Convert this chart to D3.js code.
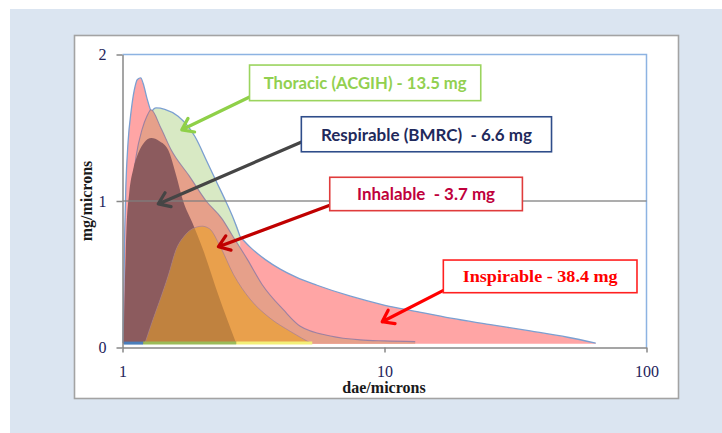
<!DOCTYPE html>
<html><head><meta charset="utf-8">
<script src="https://cdn.jsdelivr.net/npm/d3@7"></script>
<style>body{margin:0;background:#fff}svg{display:block}</style>
</head><body><svg id="c" width="722" height="433"></svg>
<script>
// ---------- data ----------
const xTicks = [1, 10, 100];
const yTicks = [0, 1, 2];
const gridValues = [1];
const baseline = 0.025;

// Inspirable (pink)
const inspirableX = [1.005,1.012,1.02,1.03,1.05,1.08,1.11,1.14,1.174,1.2,1.24,1.29,1.45,1.7,2.0,2.4,2.81,3.07,3.51,4.0,4.6,5.53,7.42,9.95,13.3,17.9,25,36,50,64];
const inspirableY = [0.03,0.4,0.8,1.1,1.4,1.62,1.76,1.83,1.84,1.8,1.7,1.6,1.45,1.3,1.1,0.9,0.757,0.685,0.6,0.535,0.48,0.425,0.35,0.29,0.245,0.2,0.158,0.113,0.07,0.03];
// Thoracic (green)
const thoracicX = [1.02,1.1,1.2,1.285,1.345,1.45,1.63,1.89,2.1,2.3,2.49,2.65,2.81,2.83];
const thoracicY = [0.025,0.7,1.3,1.6,1.635,1.625,1.578,1.44,1.27,1.12,0.99,0.88,0.757,0.025];
// unlabelled series (salmon)
const seriesCX = [1.01,1.03,1.06,1.09,1.126,1.187,1.24,1.285,1.4,1.533,1.8,2.086,2.395,2.616,3.0,3.41,4.12,4.77,6.22,8.09,10,13.1];
const seriesCY = [0.025,0.45,0.85,1.1,1.302,1.487,1.58,1.623,1.5,1.35,1.17,1.0,0.88,0.77,0.6,0.43,0.256,0.145,0.079,0.052,0.045,0.04];
// Respirable (maroon)
const respirableX = [1.01,1.02,1.035,1.06,1.1,1.15,1.21,1.289,1.38,1.493,1.6,1.704,1.85,2.03,2.32,2.72];
const respirableY = [0.025,0.4,0.8,1.05,1.22,1.33,1.4,1.43,1.41,1.35,1.18,1.0,0.85,0.667,0.36,0.025];
// Inhalable (orange)
const inhalableX = [1.216,1.3,1.39,1.5,1.6,1.72,1.85,2.014,2.15,2.36,2.65,3.07,3.66,4.37,5.29];
const inhalableY = [0.025,0.18,0.325,0.5,0.667,0.76,0.81,0.828,0.81,0.69,0.5,0.33,0.2,0.11,0.025];
// thin strips along the base (x ranges)
const stripFrom = [1.01, 1.2, 2.72];
const stripTo   = [1.2, 2.72, 5.3];

// annotations (labels, tip & tail in data units, box in data units)
const annLabels = ["Thoracic (ACGIH) - 13.5 mg", "Respirable (BMRC)  - 6.6 mg", "Inhalable  - 3.7 mg", "Inspirable - 38.4 mg"];
const annTip  = [[1.684,1.486],[1.37,0.98],[2.324,0.688],[9.80,0.176]];
const annTail = [[3.07,1.712],[4.85,1.405],[6.22,0.973],[16.86,0.392]];
const annBox  = [[3.054,1.928,23.3,1.685],[4.815,1.575,43.4,1.336],[6.18,1.162,33.6,0.934],[16.77,0.597,91.98,0.374]];
const annTextWidth = [203, 211, 138, 155];

// ---------- styles ----------
const stripColors = ["#4a7ebb", "#9bbb59", "#f3ef78"];
const annText   = ["#92d050", "#1f2a5c", "#c0003c", "#ff0000"];
const annBorder = ["#9bd45e", "#2f4d8a", "#e03c3c", "#ff2020"];
const annArrow  = ["#8fd048", "#454545", "#c00000", "#ff0000"];
const annFont   = ["Lato, 'Open Sans', sans-serif","Lato, 'Open Sans', sans-serif","Lato, 'Open Sans', sans-serif","'Liberation Serif', 'Times New Roman', serif"];

// ---------- drawing ----------
const svg = d3.select("#c");
svg.append("rect").attr("width",722).attr("height",433).attr("fill","#fff");
svg.append("rect").attr("x",10).attr("y",9).attr("width",712).attr("height",424).attr("fill","#dbe5f1");
svg.append("rect").attr("x",74.5).attr("y",35.5).attr("width",604).attr("height",363)
   .attr("fill","#fff").attr("stroke","#a3a3a3").attr("stroke-width",1.6);

const x = d3.scaleLog().domain([1,100]).range([122.5,646.5]);
const y = d3.scaleLinear().domain([0,2]).range([347.5,54.5]);

const zip = (xs, ys) => xs.map((v,i)=>({x:v, y:ys[i]}));
const area = d3.area().x(d=>x(d.x)).y0(y(baseline)).y1(d=>y(d.y)).curve(d3.curveMonotoneX);
const line = d3.line().x(d=>x(d.x)).y(d=>y(d.y)).curve(d3.curveMonotoneX);

const A = zip(inspirableX, inspirableY);
const B = zip(thoracicX, thoracicY);
const C = zip(seriesCX, seriesCY);
const D = zip(respirableX, respirableY);
const E = zip(inhalableX, inhalableY);

const g = svg.append("g");
// plot border (top & right, blue)
g.append("path").attr("d",`M${x(1)},${y(2)}H${x(100)}V${y(0)}`).attr("fill","none")
 .attr("stroke","#8db3e2").attr("stroke-width",1.5);

// A
g.append("path").attr("d",area(A)).attr("fill","#ffa5a5");
g.append("path").attr("d",line(A)).attr("fill","none").attr("stroke","#7b9fd1").attr("stroke-width",1.3);
// B
g.append("path").attr("d",area(B)).attr("fill","#d8e9c4");
g.append("path").attr("d",line(B.slice(0,B.length-1))).attr("fill","none").attr("stroke","#7b9fd1").attr("stroke-width",1.3);
// C
g.append("path").attr("d",area(C)).attr("fill","#e6a08a");
g.append("path").attr("d",line(C)).attr("fill","none").attr("stroke","#8878a4").attr("stroke-width",1.1).attr("opacity",0.8);
// D
g.append("path").attr("d",area(D)).attr("fill","#8c5b5e");
// E
g.append("path").attr("d",area(E)).attr("fill","#e9a04c");
svg.append("defs").append("clipPath").attr("id","clipD").append("path").attr("d",area(D));
g.append("path").attr("d",area(E)).attr("fill","#c0823f").attr("clip-path","url(#clipD)");
g.append("path").attr("d",line(E)).attr("fill","none").attr("stroke","#9a7a98").attr("stroke-width",1).attr("opacity",0.6);

// base strips
g.selectAll("line.strip").data(stripFrom).join("line").attr("class","strip")
 .attr("x1",(d,i)=>x(d)).attr("x2",(d,i)=>x(stripTo[i]))
 .attr("y1",y(0.03)).attr("y2",y(0.03)).attr("stroke",(d,i)=>stripColors[i]).attr("stroke-width",3);

// gridline
g.selectAll("line.grid").data(gridValues).join("line").attr("class","grid")
 .attr("x1",x(1)).attr("x2",x(100)).attr("y1",d=>y(d)).attr("y2",d=>y(d))
 .attr("stroke","#7f7f7f").attr("stroke-width",1.3).attr("opacity",0.85);

// axes
const tickFont = "'Liberation Serif','Times New Roman',serif";
const xa = svg.append("g").attr("transform",`translate(0,${y(0)})`)
  .call(d3.axisBottom(x).tickValues(xTicks).tickFormat(d3.format("d")).tickSize(5).tickSizeOuter(0).tickPadding(13.5));
const ya = svg.append("g").attr("transform",`translate(${x(1)},0)`)
  .call(d3.axisLeft(y).tickValues(yTicks).tickFormat(d3.format("d")).tickSize(6).tickSizeOuter(0).tickPadding(10));
[xa, ya].forEach(a=>{
  a.select(".domain").attr("stroke","#878787").attr("stroke-width",1.5);
  a.selectAll(".tick line").attr("stroke","#878787").attr("stroke-width",1.5);
  a.selectAll(".tick text").attr("fill","#23235a").style("font-family",tickFont).style("font-size","16px");
});

svg.append("text").attr("x",384).attr("y",393).attr("text-anchor","middle")
  .style("font-family",tickFont).style("font-size","16px").style("font-weight","bold").attr("fill","#1a1a1a")
  .text("dae/microns");
svg.append("text").attr("transform","translate(92,201) rotate(-90)").attr("text-anchor","middle")
  .style("font-family",tickFont).style("font-size","16px").style("font-weight","bold").attr("fill","#1a1a1a")
  .text("mg/microns");

// annotations
const ann = svg.append("g");
annLabels.forEach((lab,i)=>{
  const [x0,y0,x1,y1] = annBox[i];
  const bx = x(x0), by = y(y0), bw = x(x1)-x(x0), bh = y(y1)-y(y0);
  const tx = x(annTip[i][0]), ty = y(annTip[i][1]);
  const sx = x(annTail[i][0]), sy = y(annTail[i][1]);
  const ang = Math.atan2(ty-sy, tx-sx);
  const L = 13, spread = 0.62;
  const p1 = [tx - L*Math.cos(ang-spread), ty - L*Math.sin(ang-spread)];
  const p2 = [tx - L*Math.cos(ang+spread), ty - L*Math.sin(ang+spread)];
  ann.append("path").attr("d",`M${sx},${sy}L${tx},${ty}M${p1[0]},${p1[1]}L${tx},${ty}L${p2[0]},${p2[1]}`)
    .attr("fill","none").attr("stroke",annArrow[i]).attr("stroke-width",3.2)
    .attr("stroke-linecap","round").attr("stroke-linejoin","round");
  ann.append("rect").attr("x",bx).attr("y",by).attr("width",bw).attr("height",bh)
    .attr("fill","#fff").attr("stroke",annBorder[i]).attr("stroke-width",1.6);
  ann.append("text").attr("x",bx+bw/2).attr("y",by+bh/2).attr("text-anchor","middle")
    .attr("dominant-baseline","central")
    .style("font-family",annFont[i]).style("font-size","17px").style("font-weight","bold")
    .style("white-space","pre").attr("fill",annText[i])
    .attr("textLength",annTextWidth[i]).attr("lengthAdjust","spacingAndGlyphs")
    .text(lab);
});
</script></body></html>
